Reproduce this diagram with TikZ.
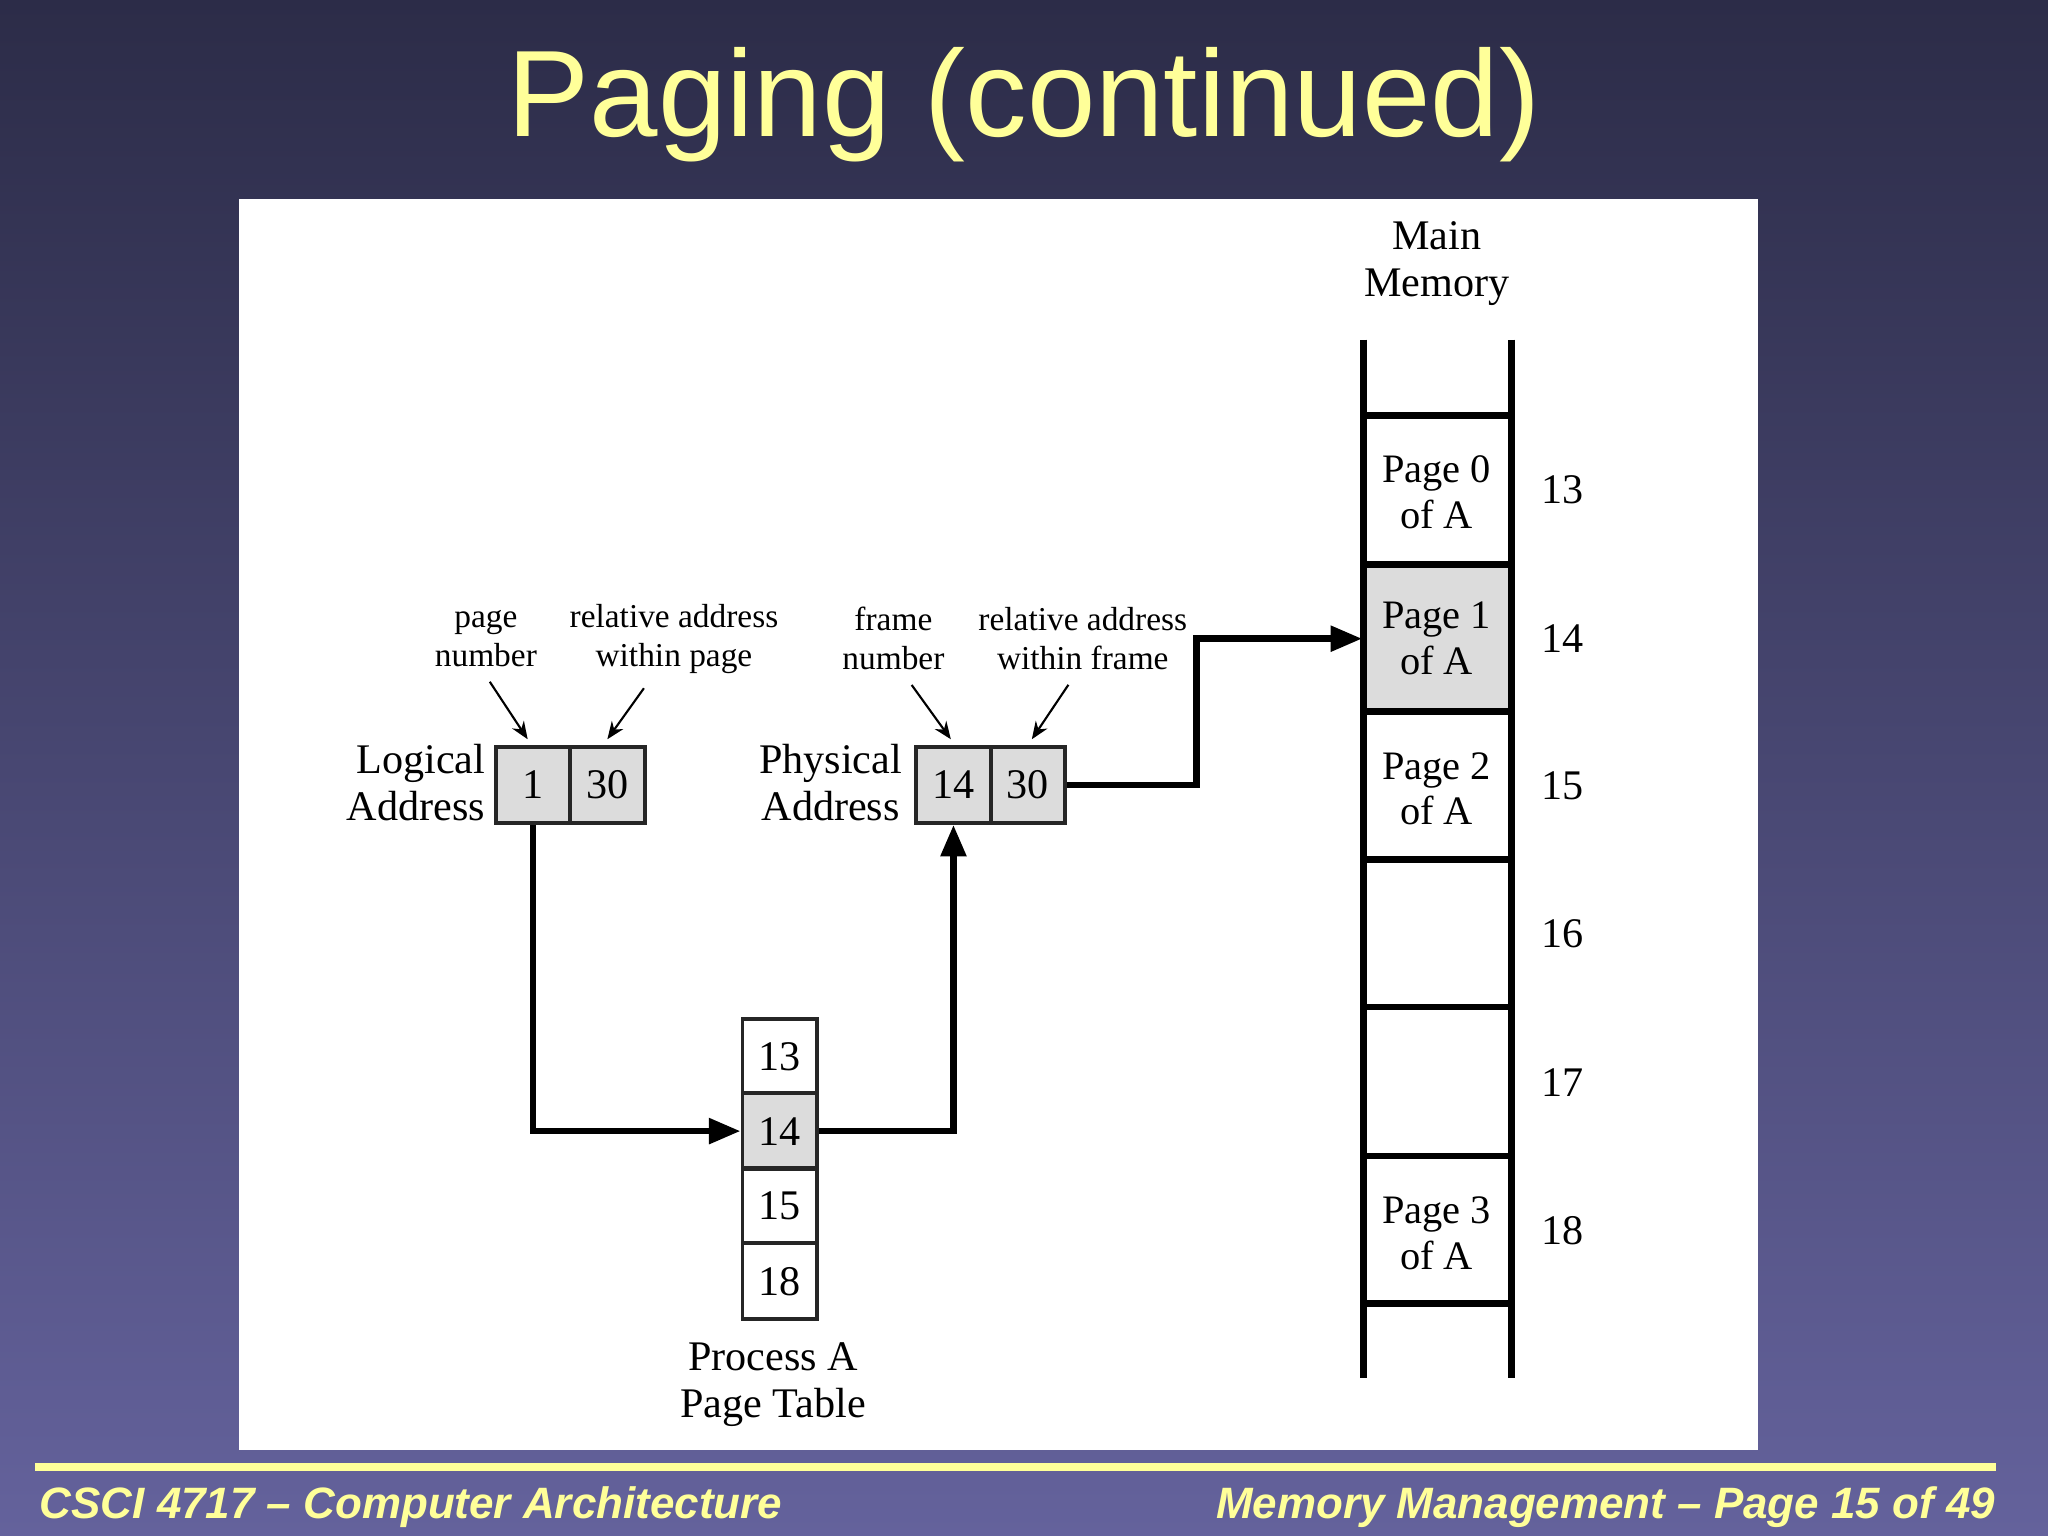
\documentclass[tikz,border=0pt]{standalone}
\usepackage{fontspec}
\setmainfont{Liberation Serif}
\newfontfamily\sansf{Liberation Sans}
\usetikzlibrary{arrows.meta}
\definecolor{ttl}{HTML}{FFFF99}
\definecolor{bgtop}{HTML}{2C2C48}
\definecolor{bgbot}{HTML}{64629C}
\definecolor{cellgray}{HTML}{DCDCDC}
\begin{document}
\begin{tikzpicture}[x=0.013061cm,y=-0.013061cm,
  cell/.style={draw=black!85,line width=1.1pt,minimum width=0.745cm,minimum height=0.757cm,inner sep=0pt,font=\fontsize{12}{12}\selectfont},
  mcell/.style={minimum width=1.476cm,minimum height=1.476cm,inner sep=0pt,align=center,font=\fontsize{11.5}{13}\selectfont},
  lbl/.style={align=center,font=\fontsize{9.5}{11}\selectfont},
  big/.style={align=center,font=\fontsize{12}{13.5}\selectfont},
  conn/.style={line width=1.9pt,-{Triangle[length=9pt,width=7pt]}},
  thin/.style={line width=0.6pt,-{Stealth[length=5pt,width=4pt]}}]
\useasboundingbox (0,0) rectangle (1568,1176);
\shade[top color=bgtop,bottom color=bgbot] (0,0) rectangle (1568,1176);
\node[text=ttl,font=\sansf\fontsize{35}{35}\selectfont] (title) at (784,80) {Paging (continued)};
\fill[white] (183,152) rectangle (1346,1110);
\fill[ttl] (27,1120) rectangle (1528,1126);
\node[anchor=west,text=ttl,inner sep=0pt,font=\sansf\bfseries\itshape\fontsize{12.5}{12.5}\selectfont] (fl) at (30,1154) {CSCI 4717 – Computer Architecture};
\node[anchor=east,text=ttl,inner sep=0pt,font=\sansf\bfseries\itshape\fontsize{12.5}{12.5}\selectfont] (fr) at (1528,1154) {Memory Management – Page 15 of 49};
% main memory
\node[big] (mmlbl) at (1100,202) {Main\\Memory};
\node[mcell] (m13) at (1100,377) {Page 0\\of A};
\node[mcell,fill=cellgray] (m14) at (1100,489) {Page 1\\of A};
\node[mcell] (m15) at (1100,604) {Page 2\\of A};
\node[mcell] (m16) at (1100,715) {};
\node[mcell] (m17) at (1100,828) {};
\node[mcell] (m18) at (1100,944) {Page 3\\of A};
\draw[line width=1.9pt] (1044,260) -- (1044,1055) (1157,260) -- (1157,1055);
\foreach \y in {318,432,545,658,771,885,998} \draw[line width=1.9pt] (1044,\y) -- (1157,\y);
\foreach \n/\y in {13/375,14/489,15/602,16/715,17/829,18/942}
  \node[big] (n\n) at (1196,\y) {\n};
% logical address
\node[cell,fill=cellgray] (l1) at (408,601) {1};
\node[cell,fill=cellgray] (l2) at (465,601) {30};
\node[big,anchor=east,align=right,inner sep=0pt] (lalbl) at (372,599) {Logical\\Address};
\node[cell,fill=cellgray] (p1) at (730,601) {14};
\node[cell,fill=cellgray] (p2) at (787,601) {30};
\node[big] (palbl) at (636,599) {Physical\\Address};
\node[lbl] (a1) at (372,489) {page\\number};
\node[lbl] (a2) at (516,489) {relative address\\within page};
\node[lbl] (a3) at (684,489) {frame\\number};
\node[lbl] (a4) at (829,489) {relative address\\within frame};
\draw[thin] (a1.south) ++(3,2) -- (404,566);
\draw[thin] (a2.south) ++(-23,2) -- (465,566);
\draw[thin] (a3.south) ++(14,2) -- (728,566);
\draw[thin] (a4.south) ++(-11,2) -- (790,566);
% page table
\node[cell] (t13) at (597,809) {13};
\node[cell,fill=cellgray] (t14) at (597,866) {14};
\node[cell] (t15) at (597,923) {15};
\node[cell] (t18) at (597,981) {18};
\node[big] (ptlbl) at (592,1060) {Process A\\Page Table};
% connectors
\draw[conn] (l1.south) |- (t14.west);
\draw[conn] (t14.east) -| (p1.south);
\draw[conn] (p2.east) -- (916,601) |- (m14.west);
\end{tikzpicture}
\end{document}
